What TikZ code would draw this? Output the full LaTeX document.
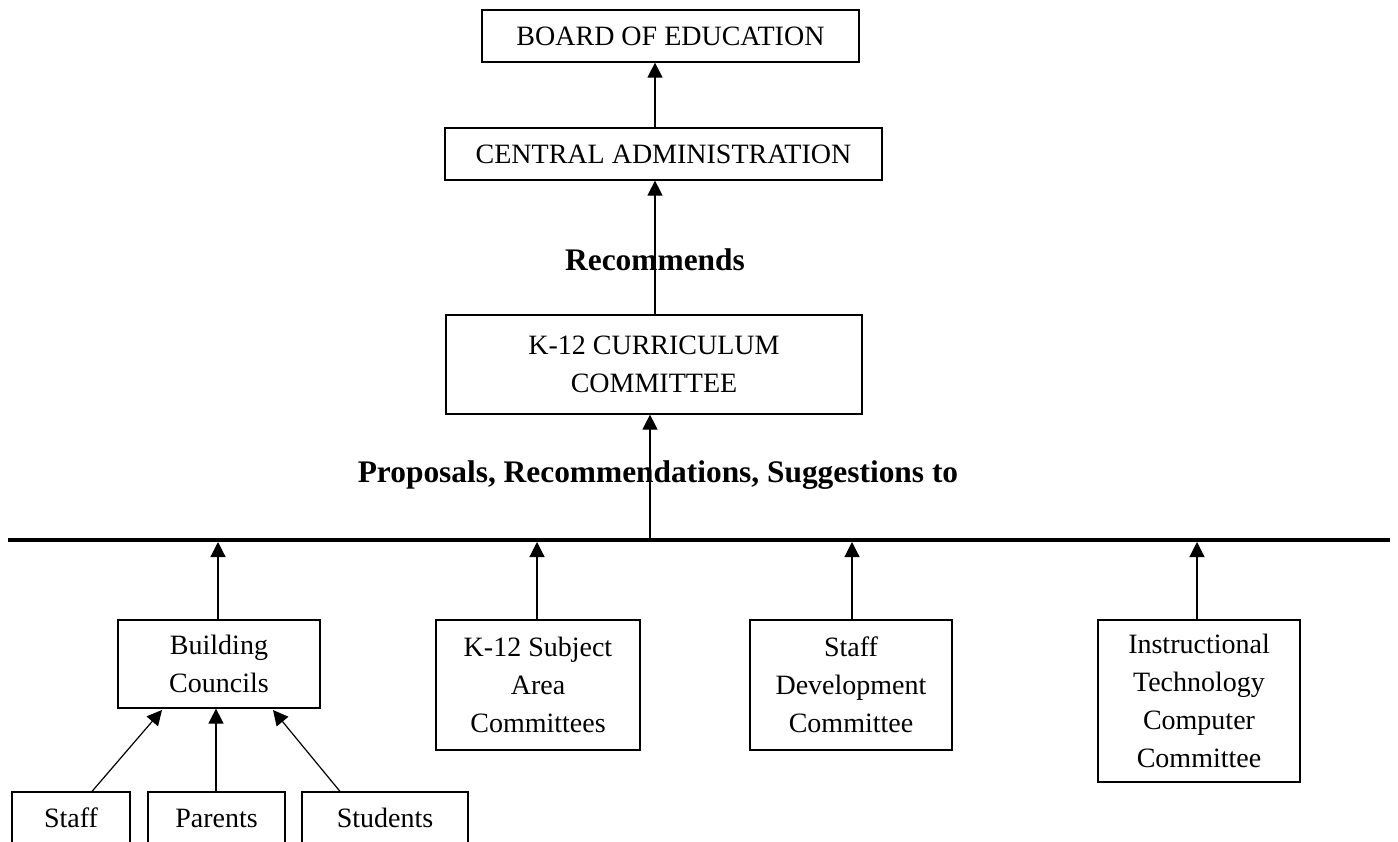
\documentclass[tikz,border=0pt]{standalone}
\usepackage{fontspec}
\setmainfont{Liberation Serif}
\usepackage{tikz}
\usetikzlibrary{positioning, arrows.meta}

\begin{document}
\begin{tikzpicture}[x=0.5pt, y=-0.5pt, >={Triangle[length=7.5pt, width=7.5pt]},
    box/.style={draw, rectangle, line width=0.6pt, align=center, inner ysep=1pt, font=\fontsize{14}{19}\selectfont},
    lbl/.style={font=\fontsize{15.7}{19}\selectfont\bfseries},
    link/.style={->, line width=0.6pt}]
    \useasboundingbox (0,0) rectangle (1398,841);
    \clip (0,0) rectangle (1398,841);
    % Top of the chart
    \node[box, minimum width=188.5pt, minimum height=26pt] (board) at (670.5,36) {BOARD OF EDUCATION};
    \node[box, minimum width=218.5pt, minimum height=26pt] (admin) at (663.5,154) {CENTRAL ADMINISTRATION};
    \node[box, minimum width=208pt, minimum height=49.5pt] (curr) at (654,364.5) {K-12 CURRICULUM\\COMMITTEE};
    % Labels on the links
    \node[lbl] (recom) at (655,260) {Recommends};
    \node[lbl] (props) at (658,475) {Proposals, Recommendations, Suggestions to};
    % The long line
    \coordinate (busL) at (8,540);
    \coordinate (busR) at (1390,540);
    \coordinate (busC) at (650,540);
    \coordinate (bus1) at (218,542);
    \coordinate (bus2) at (537,542);
    \coordinate (bus3) at (852,542);
    \coordinate (bus4) at (1197,542);
    \draw[line width=1.75pt] (busL) -- (busR);
    % Committees
    \node[box, minimum width=101pt, minimum height=44pt] (build) at (219,664) {Building\\Councils};
    \node[box, minimum width=102pt, minimum height=65pt] (subj) at (538,685) {K-12 Subject\\Area\\Committees};
    \node[box, minimum width=101pt, minimum height=65pt] (staffdev) at (851,685) {Staff\\Development\\Committee};
    \node[box, minimum width=101pt, minimum height=81pt] (tech) at (1199,701) {Instructional\\Technology\\Computer\\Committee};
    % Members of the building councils
    \node[box, minimum width=59pt, minimum height=26pt] (staff) at (71,818) {Staff};
    \node[box, minimum width=68.5pt, minimum height=26pt] (parents) at (216.5,818) {Parents};
    \node[box, minimum width=83pt, minimum height=26pt] (students) at (385,818) {Students};
    \coordinate (inL) at (162,710);
    \coordinate (inR) at (273,710);
    % Connections
    \draw[link] (admin.north -| recom) -- (board.south -| recom);
    \draw[link] (curr.north -| recom) -- (admin.south -| recom);
    \draw[link] (busC) -- (curr.south -| busC);
    \draw[link] (build.north -| bus1) -- (bus1);
    \draw[link] (subj.north -| bus2) -- (bus2);
    \draw[link] (staffdev.north -| bus3) -- (bus3);
    \draw[link] (tech.north -| bus4) -- (bus4);
    \draw[link] (staff.north -| 92,0) -- (inL);
    \draw[link] (parents.north -| 216,0) -- (build.south -| 216,0);
    \draw[link] (students.north -| 340,0) -- (inR);
\end{tikzpicture}
\end{document}
